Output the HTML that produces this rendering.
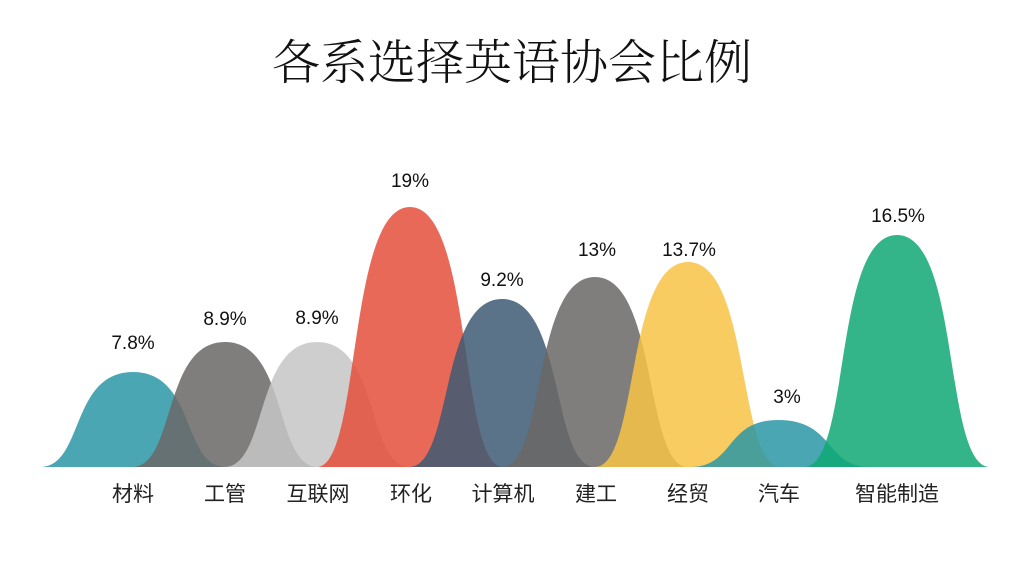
<!DOCTYPE html>
<html><head><meta charset="utf-8"><style>
html,body{margin:0;padding:0;background:#fff;width:1024px;height:576px;overflow:hidden}
path{fill-opacity:0.85}
</style></head><body>
<svg width="1024" height="576" viewBox="0 0 1024 576" xmlns="http://www.w3.org/2000/svg">
<text x="512" y="79" text-anchor="middle" font-family="'Liberation Serif','Noto Serif CJK SC',serif" font-size="48" font-weight="300" fill="#111">各系选择英语协会比例</text>
<g>
<path d="M40,467 C84,467 70,372 133,372 C196,372 182,467 226,467Z" fill="#2b97a6"/>
<path d="M132,467 C176,467 162,342 225,342 C288,342 274,467 318,467Z" fill="#6a6766"/>
<path d="M224,467 C268,467 254,342 317,342 C380,342 366,467 410,467Z" fill="#c4c5c4"/>
<path d="M317,467 C361,467 347,207 410,207 C473,207 459,467 503,467Z" fill="#e44f39"/>
<path d="M409,467 C453,467 439,299 502,299 C565,299 551,467 595,467Z" fill="#3d5b73"/>
<path d="M502,467 C546,467 532,277 595,277 C658,277 644,467 688,467Z" fill="#6a6766"/>
<path d="M595,467 C639,467 625,262 688,262 C751,262 737,467 781,467Z" fill="#f8c347"/>
<path d="M690,467 C735,467 725,420 778,420 C835,420 825,467 870,467Z" fill="#2b97a6"/>
<path d="M804,467 C851,467 833,235 897,235 C961,235 943,467 990,467Z" fill="#0fa874"/>
</g>
<g font-family="'Liberation Sans','DejaVu Sans',sans-serif" font-size="19" fill="#111" text-anchor="middle">
<text x="133" y="349">7.8%</text>
<text x="225" y="325">8.9%</text>
<text x="317" y="324">8.9%</text>
<text x="410" y="187">19%</text>
<text x="502" y="286">9.2%</text>
<text x="597" y="256">13%</text>
<text x="689" y="256">13.7%</text>
<text x="787" y="403">3%</text>
<text x="898" y="222">16.5%</text>
</g>
<g font-family="'Liberation Sans','Noto Sans CJK SC',sans-serif" font-size="21" fill="#222" text-anchor="middle">
<text x="133" y="501">材料</text>
<text x="225" y="501">工管</text>
<text x="318" y="501">互联网</text>
<text x="411" y="501">环化</text>
<text x="503" y="501">计算机</text>
<text x="596" y="501">建工</text>
<text x="688" y="501">经贸</text>
<text x="779" y="501">汽车</text>
<text x="897" y="501">智能制造</text>
</g>
</svg>
</body></html>
